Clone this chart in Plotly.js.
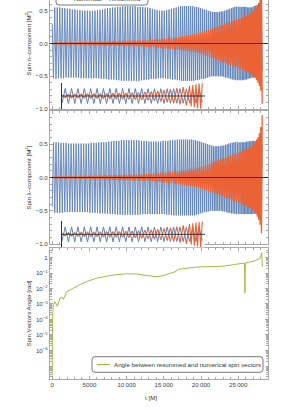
<!DOCTYPE html>
<html><head><meta charset="utf-8">
<script src="https://cdn.plot.ly/plotly-3.0.1.min.js"></script>
<style>
html,body{margin:0;padding:0;overflow:hidden;background:#fff;width:290px;height:410px}
#c{position:absolute;left:0;top:-22px;width:290px;height:432px}
</style></head><body><div id="c"></div>
<script>
// ---- data ----
const tExt = [0,169,338,507,676,845,1014,1183,1352,1521,
1690,1859,2028,2197,2366,2535,2704,2873,3042,3211,
3380,3549,3718,3887,4056,4225,4394,4563,4732,4901,
5070,5239,5408,5577,5746,5915,6084,6253,6422,6591,
6760,6929,7098,7267,7436,7605,7774,7943,8112,8281,
8450,8619,8788,8957,9126,9295,9464,9633,9802,9971,
10140,10309,10478,10647,10816,10985,11154,11323,11492,11661,
11830,11999,12168,12337,
12500,12660,12820,12980,13140,13300,13460,13620,13780,13940,14100,14260,14420,14580,14740,14900,15060,15220,15380,15540,15700,15860,16020,16180,16340,16500,16660,16820,16980,
17120,17255,17390,17525,17660,17795,17930,18065,18200,18335,18470,18605,18740,18875,19010,19145,19280,19415,19550,19685,19820,19955,20090,20225,20360,20495,20630,20765,20900,21035,21170,21305,21440,
21555,21670,21785,21900,22015,22130,22245,22360,22475,22590,22705,22820,22935,23050,23165,23280,23395,23510,23625,23740,23855,23970,24085,24200,24315,24430,24545,24660,24775,24890,25005,25120,25235,25350,25465,
25560,25655,25750,25845,25940,26035,26130,26225,26320,26415,26510,26605,26700,26795,26890,26985,27080,27175,27270,27365,27460,27555,27650,27745,27840,27935,28030,28125,28220];

const spinN = [.30,-.53,.55,-.54,.55,-.53,.55,-.53,.54,-.53,
.54,-.52,.53,-.52,.53,-.52,.52,-.52,.52,-.52,
.51,-.52,.51,-.53,.50,-.53,.50,-.53,.50,-.53,
.50,-.53,.50,-.53,.50,-.53,.51,-.53,.51,-.54,
.52,-.54,.53,-.54,.54,-.55,.54,-.55,.55,-.55,
.55,-.56,.56,-.56,.56,-.57,.57,-.57,.57,-.57,
.57,-.57,.57,-.57,.57,-.57,.57,-.57,.56,-.57,
.56,-.56,.56,-.56,
.55,-.55,.55,-.55,.54,-.54,.53,-.54,.52,-.54,
.51,-.53,.50,-.53,.50,-.53,.50,-.53,.51,-.54,
.52,-.54,.53,-.55,.54,-.55,.55,-.56,.56,
-.56,.57,-.57,.57,-.57,.57,-.57,.57,-.57,.57,
-.57,.57,-.57,.57,-.57,.56,-.56,.56,-.56,.55,
-.55,.54,-.54,.53,-.54,.52,-.53,.51,-.52,.50,-.51,.49,-.50,
.48,-.50,.48,-.50,.48,-.50,.48,-.50,.48,-.50,
.49,-.50,.49,-.51,.50,-.52,.51,-.52,.52,-.53,
.53,-.54,.54,-.55,.55,-.55,.56,-.56,.56,-.56,
.56,-.56,.56,-.56,.56,
-.56,.56,-.56,.56,-.55,.56,-.55,.55,-.54,.55,
-.53,.55,-.53,.55,-.52,.56,-.52,.57,-.51,.58,
-.50,.59,-.49,.60,-.48,.61,-.46,.62,-.40];

const diffN = [.005,-.01,.01,-.011,.012,-.012,.013,-.013,.014,-.014,
.015,-.015,.016,-.016,.017,-.017,.018,-.018,.019,-.019,
.02,-.02,.021,-.021,.022,-.022,.023,-.023,.024,-.024,
.025,-.025,.026,-.026,.027,-.027,.028,-.028,.029,-.029,
.03,-.03,.031,-.031,.032,-.032,.033,-.033,.034,-.034,
.035,-.035,.036,-.036,.037,-.037,.038,-.038,.039,-.039,
.04,-.04,.041,-.041,.042,-.042,.043,-.043,.044,-.045,
.046,-.047,.048,-.049,.05,-.051,.052,-.053,.054,-.055,
.057,-.058,.06,-.062,.064,-.066,.068,-.07,.072,-.074,
.076,-.078,.08,-.082,.084,-.086,.088,-.09,.092,-.094,
.096,-.098,.10,-.10,.105,-.105,.11,-.11,.115,-.115,
.12,-.12,.125,-.125,.13,-.13,.135,-.135,.14,-.14,
.145,-.15,.155,-.16,.165,-.17,.175,-.18,.185,-.19,
.195,-.20,.205,-.21,.215,-.22,.225,-.23,.235,-.24,
.245,-.25,.255,-.26,.265,-.27,.275,-.28,.285,-.29,
.295,-.30,.305,-.31,.315,-.32,.325,-.33,.335,-.34,
.345,-.35,.355,-.36,.365,-.37,.375,-.38,.385,-.39,
.395,-.40,.405,-.41,.415,-.42,.425,-.43,.435,-.44,
.445,-.45,.46,-.47,.48,-.49,.50,-.51,.52,-.53,
.54,-.56,.58,-.60,.62,-.65,.68,-.72,.80,-.92];

const spinL = [-.44,.53,-.53,.53,-.53,.53,-.53,.52,-.53,.52,
-.52,.52,-.52,.51,-.52,.51,-.52,.51,-.52,.51,
-.52,.51,-.52,.51,-.52,.51,-.52,.51,-.52,.51,
-.53,.52,-.53,.52,-.53,.52,-.53,.53,-.54,.53,
-.54,.53,-.54,.53,-.54,.54,-.55,.54,-.55,.55,
-.55,.55,-.56,.55,-.56,.56,-.56,.56,-.56,.56,
-.56,.56,-.56,.56,-.56,.56,-.56,.56,-.56,.56,
-.56,.55,-.55,.55,-.55,.55,-.55,.54,-.55,.54,
-.55,.54,-.55,.54,-.55,.54,-.55,.54,-.55,.55,
-.55,.55,-.56,.55,-.56,.56,-.56,.56,-.57,.56,
-.57,.57,-.57,.57,-.57,.57,-.57,.57,-.57,.57,
-.57,.57,-.57,.57,-.57,.57,-.57,.56,-.57,.56,
-.56,.55,-.55,.54,-.54,.53,-.53,.52,-.52,.51,
-.52,.50,-.51,.49,-.50,.48,-.50,.47,-.50,.47,
-.50,.47,-.50,.47,-.50,.47,-.50,.48,-.51,.48,
-.51,.49,-.52,.50,-.53,.51,-.53,.52,-.54,.52,
-.54,.53,-.55,.53,-.55,.53,-.55,.53,-.55,.53,
-.55,.53,-.55,.53,-.55,.53,-.55,.54,-.55,.54,
-.55,.54,-.55,.55,-.55,.55,-.55,.55,-.54,.55,
-.54,.56,-.54,.56,-.54,.56,-.53,.56,-.52,.50];

const diffL = [-.006,.01,-.01,.011,-.012,.012,-.013,.013,-.014,.014,
-.015,.015,-.016,.016,-.017,.017,-.018,.018,-.019,.019,
-.02,.02,-.021,.021,-.022,.022,-.023,.023,-.024,.024,
-.025,.025,-.026,.026,-.027,.027,-.028,.028,-.029,.029,
-.03,.03,-.031,.031,-.032,.032,-.033,.033,-.034,.034,
-.035,.035,-.036,.036,-.037,.037,-.038,.038,-.039,.039,
-.04,.04,-.041,.041,-.042,.042,-.043,.043,-.044,.045,
-.046,.047,-.048,.049,-.05,.051,-.052,.053,-.054,.055,
-.057,.058,-.06,.062,-.064,.066,-.068,.07,-.072,.074,
-.076,.078,-.08,.082,-.084,.086,-.088,.09,-.092,.094,
-.096,.098,-.10,.10,-.105,.105,-.11,.11,-.115,.115,
-.12,.12,-.125,.125,-.13,.13,-.135,.135,-.14,.14,
-.145,.15,-.155,.16,-.165,.17,-.175,.18,-.185,.19,
-.195,.20,-.205,.21,-.215,.22,-.225,.23,-.235,.24,
-.245,.25,-.255,.26,-.265,.27,-.275,.28,-.285,.29,
-.295,.30,-.305,.31,-.315,.32,-.325,.33,-.335,.34,
-.345,.35,-.355,.36,-.365,.37,-.375,.38,-.385,.39,
-.395,.40,-.405,.41,-.415,.42,-.425,.43,-.435,.44,
-.445,.45,-.46,.47,-.48,.49,-.50,.51,-.52,.53,
-.55,.57,-.59,.61,-.64,.67,-.71,.76,-.84,.94];

// insets (scaled, same time span)
const tIn = [0,640,1280,1920,2560,3200,3840,4480,5120,5760,6400,7040,7680,8320,8960,9600,10240,10880,11520,12160,12800,13440,14080,14720,15360,16000,16640,17280,17920,18560,19200,19840,20480,21120,21760,22400,23040,23680,24320,24960,25600,26240,26880,27520,28160];
const inSpinN = [-.55,.58,-.58,.58,-.58,.57,-.58,.57,-.58,.57,-.58,.58,-.58,.58,-.58,.58,-.58,.58,-.58,.58,-.58,.58,-.58,.57,-.57,.57,-.57,.56,-.57,.56,-.57,.56,-.57,.56,-.56,.56,-.56,.56,-.56,.55,-.55,.55,-.55,.55,-.50];
const tInD = [0,640,1280,1920,2560,3200,3840,4480,5120,5760,6400,7040,7680,8320,8960,9600,10240,10880,11520,12160,12800,13440,14080,14720,15360,16000,16640,17280,17920,18560,19200,19840,20480,21120,21760,22400,23040,23680,24320,24960,25600,25920,26240,26560,26880,27200,27520,27840,28160];
const inDiffN = [.05,-.12,.13,-.14,.14,-.15,.15,-.16,.16,-.17,.17,-.18,.18,-.19,.19,-.20,.20,-.21,.22,-.23,.24,-.25,.26,-.27,.28,-.30,.32,-.34,.36,-.38,.40,-.43,.46,-.49,.52,-.56,.60,-.64,.68,-.73,.78,-.81,.84,-.87,.90,-.93,.96,-.98,.98];
const inSpinL = [-.52,.57,-.58,.57,-.58,.57,-.58,.57,-.58,.58,-.58,.58,-.58,.58,-.58,.58,-.58,.58,-.58,.58,-.58,.57,-.57,.57,-.57,.57,-.57,.56,-.57,.56,-.57,.56,-.56,.56,-.56,.56,-.56,.56,-.56,.55,-.55,.55,-.55,.55,-.50];
const inDiffL = [.05,-.12,.13,-.14,.14,-.15,.15,-.16,.16,-.17,.17,-.18,.18,-.19,.19,-.20,.20,-.21,.22,-.23,.24,-.25,.26,-.27,.28,-.30,.32,-.34,.36,-.38,.40,-.43,.46,-.49,.52,-.56,.60,-.64,.68,-.73,.78,-.81,.84,-.87,.90,-.93,.96,-.98,.98];

// angle between spin vectors [rad]
const angT = [0,40,120,376,685,1050,1280,1490,1950,2390,2840,3740,4640,5980,7330,8670,10010,11360,12470,13800,14600,15500,16500,17000,18300,20100,21500,23200,24500,25500,25850,25900,25950,27280,27950,28160,28240];
const angV = [2.5e-8,1e-4,7.9e-4,1.4e-3,7.1e-4,2.5e-3,2.8e-3,2.0e-3,6.3e-3,7.9e-3,0.0105,0.0178,0.0282,0.0468,0.063,0.079,0.089,0.087,0.071,0.059,0.063,0.083,0.12,0.174,0.209,0.251,0.257,0.282,0.355,0.417,0.427,0.005,0.437,0.63,0.89,2.04,0.25];

const xTickVals = [0,5000,10000,15000,20000,25000];
const xTickText = ['0','5000','10\u2009000','15\u2009000','20\u2009000','25\u2009000'];
const yTickVals = [-1,-0.5,0,0.5];
const yTickText = ['\u22121.0','\u22120.5','0.0','0.5'];
const logTickVals = [1,0.1,0.01,0.001,1e-4,1e-5,1e-6];
const logTickText = ['1','10<sup>\u22121</sup>','10<sup>\u22122</sup>','10<sup>\u22123</sup>','10<sup>\u22124</sup>','10<sup>\u22125</sup>','10<sup>\u22126</sup>'];

// ---- styling ----
const BLUE='#5e81b5', RED='#eb6235', GREEN='#9dbf3f', FRAME='#a8a8a8', TXT='#444';
const FONT='Liberation Sans, Arial, sans-serif';
const H=401; const W=218;
const py = Y => 1 - Y/H;
const px = X => (X-50)/W;

const logMinor=[];
for(let e=-8;e<=0;e++){for(let m=2;m<=9;m++){logMinor.push(m*Math.pow(10,e));}}

function xax(anchor, labels){
  return {domain:[0,1], anchor:anchor, range:[-300,29000], showgrid:false, zeroline:false,
    showline:true, linecolor:FRAME, linewidth:1, mirror:'ticks', ticks:'inside', ticklen:3, tickcolor:FRAME,
    tickmode:'array', tickvals:xTickVals, ticktext:xTickText, showticklabels:labels,
    tickfont:{size:6.2,color:TXT,family:FONT},
    minor:{ticks:'inside', ticklen:1.6, tickcolor:FRAME, tickmode:'linear', tick0:0, dtick:1000, showgrid:false}};
}
function yax(anchor, dom){
  return {domain:dom, anchor:anchor, range:[-1,1], showgrid:false, zeroline:false,
    showline:true, linecolor:FRAME, linewidth:1, mirror:'ticks', ticks:'inside', ticklen:3, tickcolor:FRAME,
    tickmode:'array', tickvals:yTickVals, ticktext:yTickText, tickfont:{size:6.2,color:TXT,family:FONT},
    minor:{ticks:'inside', ticklen:1.6, tickcolor:FRAME, tickmode:'linear', tick0:0, dtick:0.1, showgrid:false}};
}
function inX(anchor){return {domain:[px(62),px(205)], anchor:anchor, range:[0,28700], visible:false};}
function inY(anchor, dom){return {domain:dom, anchor:anchor, range:[-1,1], showgrid:false, zeroline:false,
  showline:true, linecolor:'#333', linewidth:1, ticks:'', showticklabels:false};}

const data = [
  {x:tExt, y:spinN, xaxis:'x', yaxis:'y', type:'scatter', mode:'lines', line:{color:BLUE,width:0.9,simplify:false}},
  {x:tExt, y:diffN, xaxis:'x', yaxis:'y', type:'scatter', mode:'lines', line:{color:RED,width:1.3,simplify:false}},
  {x:tIn, y:inSpinN, xaxis:'x4', yaxis:'y4', type:'scatter', mode:'lines', line:{color:BLUE,width:1,simplify:false}},
  {x:tInD, y:inDiffN, xaxis:'x4', yaxis:'y4', type:'scatter', mode:'lines', line:{color:RED,width:1.1,simplify:false}},
  {x:tExt, y:spinL, xaxis:'x2', yaxis:'y2', type:'scatter', mode:'lines', line:{color:BLUE,width:0.9,simplify:false}},
  {x:tExt, y:diffL, xaxis:'x2', yaxis:'y2', type:'scatter', mode:'lines', line:{color:RED,width:1.3,simplify:false}},
  {x:tIn, y:inSpinL, xaxis:'x5', yaxis:'y5', type:'scatter', mode:'lines', line:{color:BLUE,width:1,simplify:false}},
  {x:tInD, y:inDiffL, xaxis:'x5', yaxis:'y5', type:'scatter', mode:'lines', line:{color:RED,width:1.1,simplify:false}},
  {x:angT, y:angV, xaxis:'x3', yaxis:'y3', type:'scatter', mode:'lines', line:{color:GREEN,width:1,simplify:false}}
];

function rbox(X0,X1,Y0,Y1,r){
  const x0=px(X0),x1=px(X1),y0=py(Y1),y1=py(Y0),rx=r/W,ry=r/H;
  return `M ${x0+rx},${y0} L ${x1-rx},${y0} Q ${x1},${y0} ${x1},${y0+ry} L ${x1},${y1-ry} Q ${x1},${y1} ${x1-rx},${y1} L ${x0+rx},${y1} Q ${x0},${y1} ${x0},${y1-ry} L ${x0},${y0+ry} Q ${x0},${y0} ${x0+rx},${y0} Z`;
}

const shapes = [
  {type:'line', xref:'x domain', yref:'y', x0:0, x1:1, y0:0, y1:0, line:{color:'#333',width:1}, layer:'above'},
  {type:'line', xref:'x2 domain', yref:'y2', x0:0, x1:1, y0:0, y1:0, line:{color:'#333',width:1}, layer:'above'},
  {type:'line', xref:'x4 domain', yref:'y4', x0:0, x1:1, y0:0, y1:0, line:{color:'#333',width:1}, layer:'above'},
  {type:'line', xref:'x5 domain', yref:'y5', x0:0, x1:1, y0:0, y1:0, line:{color:'#333',width:1}, layer:'above'},
  {type:'path', xref:'paper', yref:'paper', path:rbox(56,148,5,27,3), line:{color:'#555',width:0.8}, fillcolor:'#fff', layer:'above'},
  {type:'line', xref:'paper', yref:'paper', x0:px(59), x1:px(70), y0:py(12), y1:py(12), line:{color:BLUE,width:1}, layer:'above'},
  {type:'line', xref:'paper', yref:'paper', x0:px(59), x1:px(70), y0:py(21), y1:py(21), line:{color:RED,width:1}, layer:'above'},
  {type:'path', xref:'paper', yref:'paper', path:rbox(92,263,378.7,394.3,3), line:{color:'#555',width:0.8}, fillcolor:'#fff', layer:'above'},
  {type:'line', xref:'paper', yref:'paper', x0:px(97), x1:px(110), y0:py(386.5), y1:py(386.5), line:{color:GREEN,width:1}, layer:'above'}
];

const af = {size:6.2,color:'#333',family:FONT};
const annotations = [
  {xref:'paper',yref:'paper',x:px(28),y:py(65.5),text:'Spin n\u2013component [M<sup>2</sup>]',textangle:-90,showarrow:false,font:af,xanchor:'center',yanchor:'middle'},
  {xref:'paper',yref:'paper',x:px(28),y:py(199.5),text:'Spin \u03bb\u2013component [M<sup>2</sup>]',textangle:-90,showarrow:false,font:af,xanchor:'center',yanchor:'middle'},
  {xref:'paper',yref:'paper',x:px(28),y:py(335.5),text:'Spin Vectors Angle [rad]',textangle:-90,showarrow:false,font:af,xanchor:'center',yanchor:'middle'},
  {xref:'paper',yref:'paper',x:px(151),y:py(419),text:'t [M]',showarrow:false,font:af,xanchor:'center',yanchor:'middle'},
  {xref:'paper',yref:'paper',x:px(72),y:py(12),text:'Numerical',showarrow:false,font:af,xanchor:'left',yanchor:'middle'},
  {xref:'paper',yref:'paper',x:px(72),y:py(21),text:'Numerical \u2212 Resummed',showarrow:false,font:af,xanchor:'left',yanchor:'middle'},
  {xref:'paper',yref:'paper',x:px(112),y:py(386.5),text:'Angle between resummed and numerical spin vectors',showarrow:false,font:af,xanchor:'left',yanchor:'middle'}
];

const layout = {
  width:290, height:432, margin:{l:50,r:22,t:0,b:31}, paper_bgcolor:'#fff', plot_bgcolor:'#fff',
  showlegend:false, font:{family:FONT,size:6.2,color:TXT},
  xaxis:xax('y',false), yaxis:yax('x',[py(131),1]),
  xaxis2:xax('y2',false), yaxis2:yax('x2',[py(266),py(133)]),
  xaxis3:xax('y3',true),
  yaxis3:{domain:[0,py(270)], anchor:'x3', type:'log', range:[-7.84,0.613], showgrid:false, zeroline:false,
    showline:true, linecolor:FRAME, linewidth:1, mirror:'ticks', ticks:'inside', ticklen:3, tickcolor:FRAME,
    tickmode:'array', tickvals:logTickVals, ticktext:logTickText, tickfont:{size:6.2,color:TXT,family:FONT},
    minor:{ticks:'inside', ticklen:1.6, tickcolor:FRAME, tickmode:'array', tickvals:logMinor, showgrid:false}},
  xaxis4:inX('y4'), yaxis4:inY('x4',[py(131),py(105)]),
  xaxis5:inX('y5'), yaxis5:inY('x5',[py(269.3),py(243.3)]),
  shapes:shapes, annotations:annotations
};
Plotly.newPlot('c', data, layout, {staticPlot:true, displayModeBar:false});
</script></body></html>
